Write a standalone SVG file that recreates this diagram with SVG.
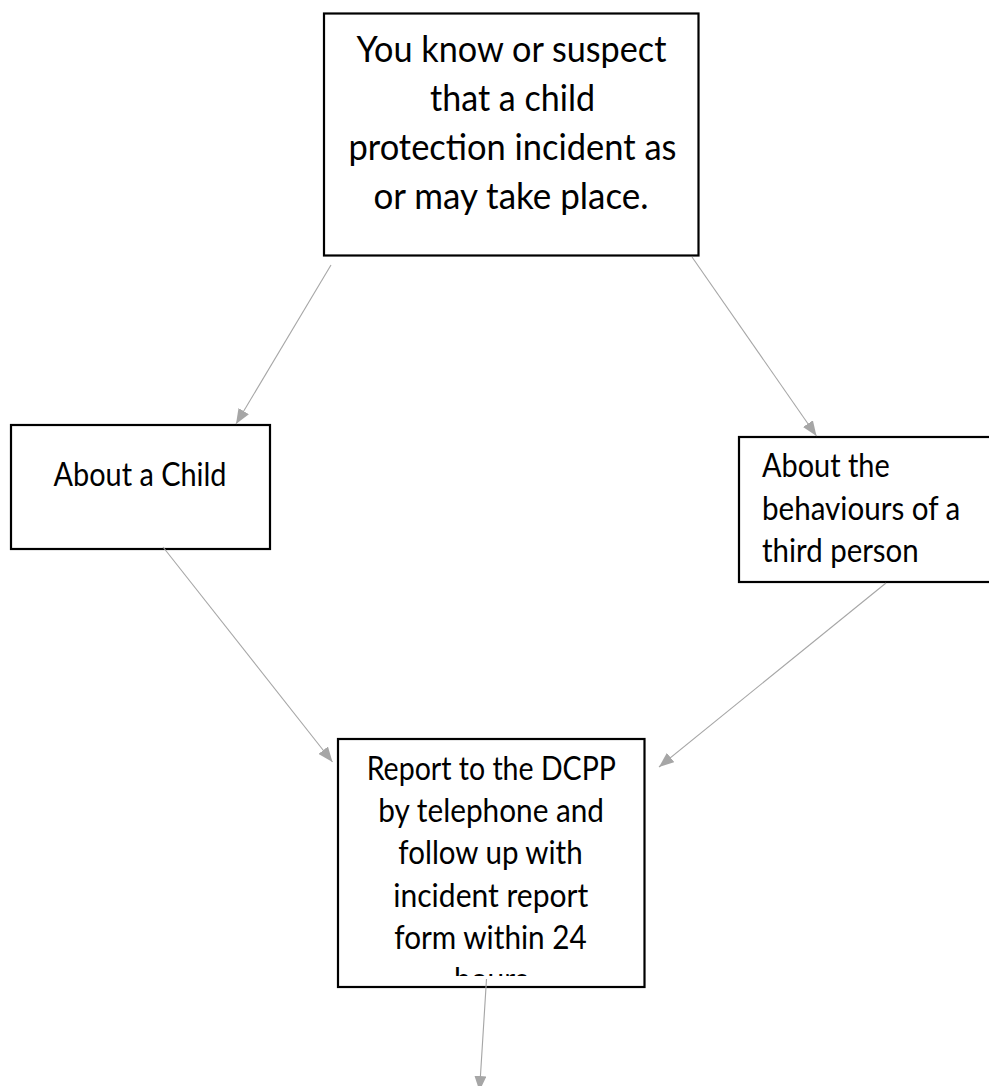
<svg xmlns="http://www.w3.org/2000/svg" width="989" height="1086" viewBox="0 0 989 1086">
  <style>
    .box { fill: #ffffff; stroke: #000000; stroke-width: 2.2; }
    .t { font-family: Lato, "Open Sans", "Liberation Sans", sans-serif; fill: #000000; }
    .big { font-size: 37px; text-anchor: middle; }
    .mid { font-size: 32px; text-anchor: middle; }
    .left { font-size: 32px; text-anchor: start; }
    .conn { stroke: #a6a6a6; stroke-width: 1.1; fill: none; marker-end: url(#arrow); }
  </style>
  <defs>
    <marker id="arrow" viewBox="0 0 15 12" refX="15" refY="6" markerWidth="15" markerHeight="12" markerUnits="userSpaceOnUse" orient="auto">
      <path d="M0,0 L15,6 L0,12 z" fill="#a6a6a6"/>
    </marker>
    <clipPath id="clipReport">
      <rect x="339" y="740" width="305" height="236"/>
    </clipPath>
  </defs>
  <rect x="0" y="0" width="989" height="1086" fill="#ffffff"/>

  <g id="node-start">
    <rect class="box" x="324" y="13.5" width="374.5" height="242"/>
    <text class="t big" x="511.5" y="61.5" textLength="310" lengthAdjust="spacingAndGlyphs">You know or suspect</text>
    <text class="t big" x="512.5" y="110.5" textLength="165" lengthAdjust="spacingAndGlyphs">that a child</text>
    <text class="t big" x="512.5" y="159.5" textLength="328" lengthAdjust="spacingAndGlyphs">protection incident as</text>
    <text class="t big" x="511" y="208.5" textLength="275" lengthAdjust="spacingAndGlyphs">or may take place.</text>
  </g>

  <g id="node-child">
    <rect class="box" x="11" y="425" width="259" height="124"/>
    <text class="t mid" x="140" y="485.7" textLength="173" lengthAdjust="spacingAndGlyphs">About a Child</text>
  </g>

  <g id="node-third">
    <rect class="box" x="739" y="437" width="270" height="145"/>
    <text class="t left" x="762" y="477.3" textLength="127.7" lengthAdjust="spacingAndGlyphs">About the</text>
    <text class="t left" x="762" y="519.5" textLength="198.3" lengthAdjust="spacingAndGlyphs">behaviours of a</text>
    <text class="t left" x="762" y="561.7" textLength="156.7" lengthAdjust="spacingAndGlyphs">third person</text>
  </g>

  <g id="node-report">
    <rect class="box" x="338" y="739" width="306.5" height="248"/>
    <g clip-path="url(#clipReport)">
      <text class="t mid" x="491.3" y="780" textLength="249.3" lengthAdjust="spacingAndGlyphs">Report to the DCPP</text>
      <text class="t mid" x="491.2" y="822.2" textLength="225.7" lengthAdjust="spacingAndGlyphs">by telephone and</text>
      <text class="t mid" x="490.5" y="864.4" textLength="184.3" lengthAdjust="spacingAndGlyphs">follow up with</text>
      <text class="t mid" x="490.8" y="906.6" textLength="195" lengthAdjust="spacingAndGlyphs">incident report</text>
      <text class="t mid" x="490.5" y="948.8" textLength="192.5" lengthAdjust="spacingAndGlyphs">form within 24</text>
      <text class="t mid" x="491" y="991" textLength="74" lengthAdjust="spacingAndGlyphs">hours</text>
    </g>
  </g>

  <g id="connectors">
    <line class="conn" x1="331" y1="265" x2="236" y2="424"/>
    <line class="conn" x1="692" y1="257" x2="816.5" y2="436"/>
    <line class="conn" x1="163" y1="547" x2="332.5" y2="762"/>
    <line class="conn" x1="886" y1="583" x2="659" y2="767"/>
    <line class="conn" x1="486.5" y1="979" x2="479.5" y2="1091"/>
  </g>
</svg>
